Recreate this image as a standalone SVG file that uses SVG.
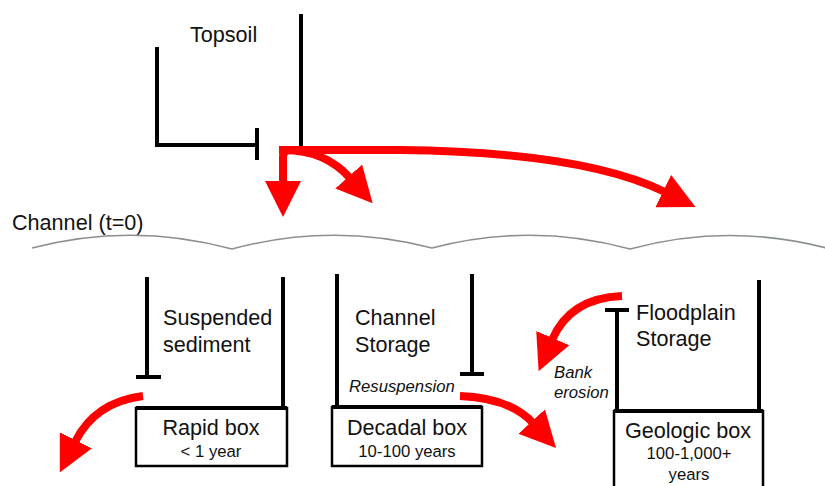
<svg xmlns="http://www.w3.org/2000/svg" width="825" height="486" viewBox="0 0 825 486">
<style>
.blk{stroke:#000;stroke-width:4;fill:none;stroke-linecap:butt}
.red{stroke:#f00;stroke-width:8;fill:none;marker-end:url(#ah)}
.wave{stroke:#8a9090;stroke-width:1.6;fill:none}
.t{font-family:"Liberation Sans",Arial,sans-serif;fill:#111}
.lg{font-size:21.6px}
.sm{font-size:16.7px}
.it{font-size:16.7px;font-style:italic}
.box{fill:#fff;stroke:#000;stroke-width:2.5}
</style>
<defs>
<marker id="ah" viewBox="0 0 36 36" refX="2" refY="18" markerWidth="36" markerHeight="36" markerUnits="userSpaceOnUse" orient="auto">
<path d="M0,0 L36,18 L0,36 z" fill="#f00"/>
</marker>
</defs>
<rect width="825" height="486" fill="#fff"/>

<g id="topsoil">
<path class="blk" d="M157 47 V145 H257 M257 128 V160 M301 14 V147"/>
<text class="t lg" x="190" y="42">Topsoil</text>
</g>

<g id="channel">
<text class="t lg" x="12" y="230">Channel (t=0)</text>
<path class="wave" d="M32 248 Q132 222 232 249 Q332 222 432 248 Q531 222 630 249 Q730 222 830 249"/>
</g>

<g id="suspended">
<path class="blk" d="M147 277 V377 M136 377 H161 M283 277 V410"/>
<text class="t lg" x="163" y="325">Suspended</text>
<text class="t lg" x="163" y="352">sediment</text>
</g>

<g id="rapid-box">
<rect class="box" x="136" y="408" width="151" height="58"/>
<path class="blk" d="M136 408 H287" stroke-width="5"/>
<text class="t lg" x="211" y="435" text-anchor="middle">Rapid box</text>
<text class="t sm" x="211" y="457" text-anchor="middle">&lt; 1 year</text>
</g>

<g id="channel-storage">
<path class="blk" d="M337 274 V408 M472 274 V374 M460 374 H484"/>
<text class="t lg" x="355" y="325">Channel</text>
<text class="t lg" x="355" y="352">Storage</text>
<text class="t it" x="349" y="392">Resuspension</text>
</g>

<g id="decadal-box">
<rect class="box" x="332" y="407" width="150" height="59"/>
<path class="blk" d="M332 407 H482" stroke-width="6"/>
<text class="t lg" x="407" y="435" text-anchor="middle">Decadal box</text>
<text class="t sm" x="407" y="457" text-anchor="middle">10-100 years</text>
</g>

<g id="floodplain">
<path class="blk" d="M617 310 V412 M605 310 H629 M759 280 V412"/>
<text class="t lg" x="636" y="320">Floodplain</text>
<text class="t lg" x="636" y="346">Storage</text>
<text class="t it" x="554" y="378">Bank</text>
<text class="t it" x="554" y="398">erosion</text>
</g>

<g id="geologic-box">
<rect class="box" x="614" y="411" width="149" height="90"/>
<path class="blk" d="M614 411 H763"/>
<text class="t lg" x="688" y="438" text-anchor="middle">Geologic box</text>
<text class="t sm" x="689" y="459" text-anchor="middle">100-1,000+</text>
<text class="t sm" x="689" y="480" text-anchor="middle">years</text>
</g>

<g id="connectors">
<path class="red" d="M300 150 H290 Q283 150 283 157 V183"/>
<path class="red" d="M284 150 Q325 150 350 178"/>
<path class="red" d="M279 150 L400 150 C500 151 600 160 665 192"/>
<path class="red" d="M143 396 Q95 402 75 442"/>
<path class="red" d="M460 396 Q510 398 533 423"/>
<path class="red" d="M622 296 Q570 298 552 340"/>
</g>
</svg>
